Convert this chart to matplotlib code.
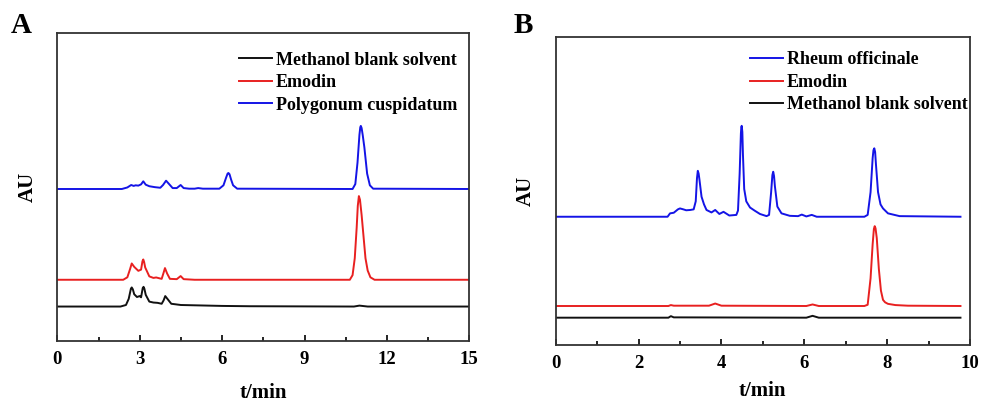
import matplotlib
matplotlib.use("Agg")
import matplotlib.pyplot as plt
from matplotlib.ticker import MultipleLocator

plt.rcParams['font.family'] = ['Liberation Serif', 'DejaVu Serif']
plt.rcParams['font.weight'] = 'bold'

# Panel A: retention time (min) and signal above baseline (AU)
a_blank_t = [0, 2.3, 2.5, 2.6, 2.68, 2.71, 2.75, 2.8, 2.9, 3.0, 3.05, 3.11, 3.14, 3.17, 3.22,
             3.35, 3.5, 3.65, 3.8, 3.87, 3.93, 4.0, 4.15, 4.5, 5.0, 6.0, 7.0, 10.8, 11.0,
             11.3, 15]
a_blank_au = [0, 0, 0.5, 2.5, 5.8, 6.2, 5.6, 4.0, 3.1, 3.4, 3.0, 6.0, 6.4, 5.8, 3.8,
              1.6, 1.3, 1.2, 0.9, 2.0, 3.4, 2.6, 0.9, 0.5, 0.4, 0.2, 0.1, 0, 0.3,
              0, 0]

a_emodin_t = [0, 2.4, 2.55, 2.65, 2.71, 2.8, 2.95, 3.05, 3.1, 3.13, 3.16, 3.2, 3.35, 3.5, 3.6,
              3.75, 3.8, 3.86, 3.92, 4.0, 4.1, 4.35, 4.49, 4.6, 5.0, 10.65, 10.75, 10.83,
              10.9, 10.94, 10.98, 11.02, 11.08, 11.15, 11.22, 11.3, 11.4, 11.55, 15]
a_emodin_au = [0, 0, 0.8, 3.5, 5.3, 4.2, 2.9, 3.3, 6.0, 6.6, 5.8, 4.0, 1.1, 0.6, 0.75,
               0.4, 0.3, 2.0, 3.8, 2.0, 0.3, 0.2, 1.2, 0.2, 0, 0, 1.5, 7,
               17, 24, 27.2, 26, 21, 14, 7, 3, 0.8, 0, 0]

a_sample_t = [0, 2.35, 2.55, 2.69, 2.78, 2.85, 2.95, 3.05, 3.13, 3.22, 3.35, 3.55, 3.75, 3.85,
              3.96, 4.05, 4.2, 4.35, 4.49, 4.6, 4.8, 5.0, 5.13, 5.3, 5.9, 6.05, 6.15, 6.2,
              6.23, 6.27, 6.33, 6.4, 6.55, 10.75, 10.85, 10.93, 11.0, 11.03, 11.05, 11.08,
              11.12, 11.18, 11.28, 11.38, 11.5, 15]
a_sample_au = [0, 0, 0.5, 1.3, 1.0, 1.2, 1.1, 1.5, 2.5, 1.4, 0.9, 0.6, 0.4, 1.3,
               2.7, 1.8, 0.3, 0.3, 1.3, 0.3, 0.1, 0.1, 0.3, 0.1, 0.1, 1.2, 3.8, 5.0,
               5.2, 4.8, 3.0, 1.2, 0.1, 0, 1.6, 8.6, 17.6, 20.0, 20.5, 19.8,
               17.5, 13.5, 5.0, 1.2, 0.1, 0]

# Panel B
b_blank_t = [0, 2.72, 2.78, 2.85, 2.95, 6.05, 6.2, 6.35, 9.77]
b_blank_au = [0, 0, 0.5, 0.1, 0.1, 0, 0.6, 0, 0]

b_emodin_t = [0, 2.72, 2.78, 2.85, 3.7, 3.85, 4.0, 6.05, 6.2, 6.35, 7.45, 7.53, 7.6, 7.65,
              7.68, 7.7, 7.72, 7.75, 7.8, 7.85, 7.9, 7.95, 8.02, 8.2, 8.5, 9.77]
b_emodin_au = [0, 0, 0.3, 0.1, 0.1, 0.8, 0.1, 0, 0.5, 0, 0, 0.4, 9, 20,
               25.0, 25.9, 25.2, 22, 12, 5, 2.0, 1.2, 0.7, 0.3, 0.1, 0]

b_sample_t = [0, 2.7, 2.76, 2.85, 2.95, 3.0, 3.08, 3.15, 3.25, 3.33, 3.38, 3.41, 3.43, 3.45,
              3.47, 3.52, 3.58, 3.64, 3.76, 3.85, 3.95, 4.05, 4.19, 4.36, 4.4, 4.44, 4.47,
              4.48, 4.49, 4.505, 4.52, 4.55, 4.6, 4.69, 4.8, 4.93, 5.09, 5.15, 5.2, 5.23,
              5.25, 5.27, 5.29, 5.35, 5.45, 5.65, 5.85, 5.94, 6.05, 6.18, 6.3, 7.45, 7.53,
              7.6, 7.65, 7.67, 7.69, 7.71, 7.73, 7.78, 7.84, 7.9, 8.02, 8.3, 9.77]
b_sample_au = [0, 0, 1.1, 1.3, 2.4, 2.7, 2.4, 2.1, 2.2, 2.4, 5, 12.5, 14.9, 14.0,
               12, 6.5, 4.0, 2.2, 1.4, 2.2, 0.9, 1.6, 0.4, 0.6, 2, 14, 27,
               29.0, 29.5, 27.5, 20, 9, 5.0, 3.0, 2.0, 0.9, 0.2, 0.6, 8, 13.5,
               14.6, 13.2, 10, 3.3, 1.1, 0.3, 0.2, 0.7, 0.1, 0.6, 0, 0, 0.6,
               8, 19, 21.6, 22.2, 21.0, 17, 8, 4.0, 2.7, 1.1, 0.2, 0]

BLUE = '#1414e6'
RED = '#e82020'
BLACK = '#111111'

W, H = 981, 405
fig = plt.figure(figsize=(W / 100, H / 100), dpi=100)
axA = fig.add_axes([57.3 / W, 1 - 341 / H, 412 / W, 307.7 / H])
axB = fig.add_axes([555.7 / W, 1 - 345 / H, 414.3 / W, 308.3 / H])


def shift(vals, off):
    return [v + off for v in vals]


# stacked traces, each drawn at its own baseline offset
axA.plot(a_blank_t, shift(a_blank_au, 11.2), color=BLACK, lw=1.4, label='Methanol blank solvent')
axA.plot(a_emodin_t, shift(a_emodin_au, 19.9), color=RED, lw=1.4, label='Emodin')
axA.plot(a_sample_t, shift(a_sample_au, 49.4), color=BLUE, lw=1.4, label='Polygonum cuspidatum')

axB.plot(b_sample_t, shift(b_sample_au, 41.6), color=BLUE, lw=1.4, label='Rheum officinale')
axB.plot(b_emodin_t, shift(b_emodin_au, 12.65), color=RED, lw=1.4, label='Emodin')
axB.plot(b_blank_t, shift(b_blank_au, 8.86), color=BLACK, lw=1.4, label='Methanol blank solvent')

for ax, xmax, major, leg_x, leg_y, xpad in [(axA, 15, 3, 0.441, 0.94, 11),
                                           (axB, 10, 2, 0.469, 0.952, 7)]:
    ax.set_xlim(0, xmax)
    ax.set_ylim(0, 100)
    ax.xaxis.set_major_locator(MultipleLocator(major))
    ax.xaxis.set_minor_locator(MultipleLocator(major / 2))
    ax.set_yticks([])
    ax.tick_params(axis='x', which='both', direction='in', top=False, width=1.2,
                   labelsize=13.5, pad=7)
    ax.tick_params(axis='x', which='major', length=4.5)
    ax.tick_params(axis='x', which='minor', length=3)
    for s in ax.spines.values():
        s.set_color('#333333')
        s.set_linewidth(1.3)
    ax.set_xlabel('t/min', fontsize=15, fontweight='bold', labelpad=xpad)
    ax.set_ylabel('AU', fontsize=15, fontweight='bold', labelpad=14)
    ax.legend(loc='upper left', bbox_to_anchor=(leg_x, leg_y), frameon=False, fontsize=13,
              handlelength=1.85, handletextpad=0.2, labelspacing=0.3, borderpad=0,
              borderaxespad=0)

fig.text(11 / W, 1 - 12 / H, 'A', fontsize=21, fontweight='bold', va='top', ha='left')
fig.text(514 / W, 1 - 12 / H, 'B', fontsize=21, fontweight='bold', va='top', ha='left')

fig.savefig('out.png', dpi=100)
